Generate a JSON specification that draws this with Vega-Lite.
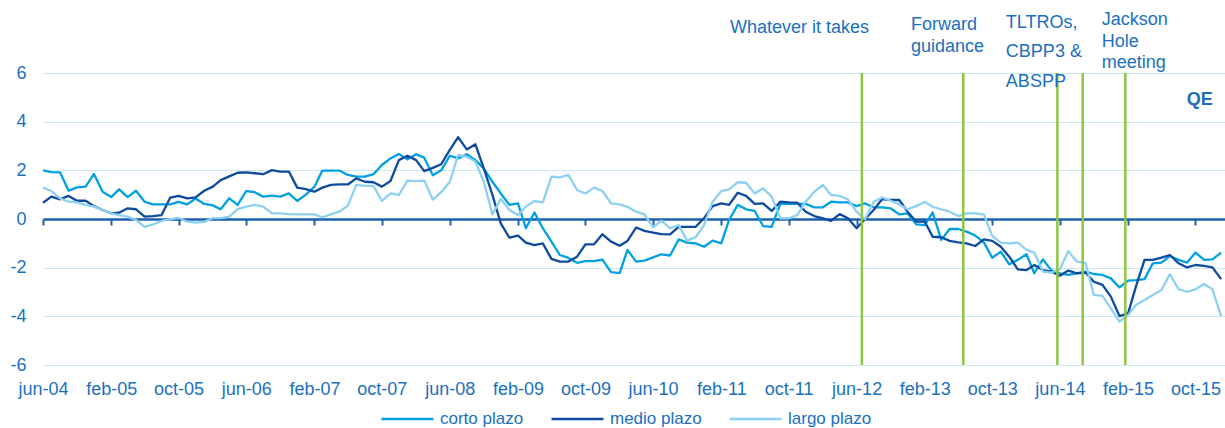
{
  "$schema": "https://vega.github.io/schema/vega-lite/v6.json",
  "width": 1182,
  "height": 292,
  "autosize": "none",
  "padding": {"left": 43, "top": 73, "right": 0, "bottom": 63},
  "background": "white",
  "config": {"view": {"stroke": null}, "font": "Liberation Sans"},
  "datasets": {
    "series": [
      {"d":"2004-06-01","corto":2.0,"medio":0.67,"largo":1.29},
      {"d":"2004-07-01","corto":1.93,"medio":0.92,"largo":1.15},
      {"d":"2004-08-01","corto":1.92,"medio":0.81,"largo":0.85},
      {"d":"2004-09-01","corto":1.16,"medio":0.95,"largo":0.71},
      {"d":"2004-10-01","corto":1.3,"medio":0.75,"largo":0.68},
      {"d":"2004-11-01","corto":1.33,"medio":0.75,"largo":0.58},
      {"d":"2004-12-01","corto":1.85,"medio":0.53,"largo":0.51},
      {"d":"2005-01-01","corto":1.12,"medio":0.37,"largo":0.37},
      {"d":"2005-02-01","corto":0.9,"medio":0.23,"largo":0.23},
      {"d":"2005-03-01","corto":1.22,"medio":0.26,"largo":0.16},
      {"d":"2005-04-01","corto":0.9,"medio":0.44,"largo":0.1},
      {"d":"2005-05-01","corto":1.16,"medio":0.4,"largo":-0.04},
      {"d":"2005-06-01","corto":0.71,"medio":0.1,"largo":-0.32},
      {"d":"2005-07-01","corto":0.6,"medio":0.12,"largo":-0.22},
      {"d":"2005-08-01","corto":0.6,"medio":0.16,"largo":-0.08},
      {"d":"2005-09-01","corto":0.6,"medio":0.88,"largo":-0.01},
      {"d":"2005-10-01","corto":0.7,"medio":0.95,"largo":0.05},
      {"d":"2005-11-01","corto":0.6,"medio":0.85,"largo":-0.11},
      {"d":"2005-12-01","corto":0.84,"medio":0.89,"largo":-0.15},
      {"d":"2006-01-01","corto":0.62,"medio":1.16,"largo":-0.12},
      {"d":"2006-02-01","corto":0.56,"medio":1.33,"largo":0.04},
      {"d":"2006-03-01","corto":0.4,"medio":1.6,"largo":0.04},
      {"d":"2006-04-01","corto":0.85,"medio":1.75,"largo":0.1},
      {"d":"2006-05-01","corto":0.58,"medio":1.9,"largo":0.41},
      {"d":"2006-06-01","corto":1.15,"medio":1.92,"largo":0.51},
      {"d":"2006-07-01","corto":1.1,"medio":1.88,"largo":0.58},
      {"d":"2006-08-01","corto":0.92,"medio":1.84,"largo":0.51},
      {"d":"2006-09-01","corto":0.96,"medio":2.01,"largo":0.23},
      {"d":"2006-10-01","corto":0.92,"medio":1.95,"largo":0.23},
      {"d":"2006-11-01","corto":1.05,"medio":1.95,"largo":0.2},
      {"d":"2006-12-01","corto":0.74,"medio":1.29,"largo":0.19},
      {"d":"2007-01-01","corto":1.0,"medio":1.23,"largo":0.19},
      {"d":"2007-02-01","corto":1.33,"medio":1.12,"largo":0.19},
      {"d":"2007-03-01","corto":1.99,"medio":1.29,"largo":0.07},
      {"d":"2007-04-01","corto":1.99,"medio":1.4,"largo":0.19},
      {"d":"2007-05-01","corto":1.99,"medio":1.42,"largo":0.3},
      {"d":"2007-06-01","corto":1.81,"medio":1.42,"largo":0.55},
      {"d":"2007-07-01","corto":1.74,"medio":1.67,"largo":1.4},
      {"d":"2007-08-01","corto":1.74,"medio":1.53,"largo":1.36},
      {"d":"2007-09-01","corto":1.84,"medio":1.51,"largo":1.36},
      {"d":"2007-10-01","corto":2.22,"medio":1.33,"largo":0.74},
      {"d":"2007-11-01","corto":2.49,"medio":1.56,"largo":1.05},
      {"d":"2007-12-01","corto":2.67,"medio":2.42,"largo":0.99},
      {"d":"2008-01-01","corto":2.45,"medio":2.6,"largo":1.58},
      {"d":"2008-02-01","corto":2.66,"medio":2.42,"largo":1.56},
      {"d":"2008-03-01","corto":2.52,"medio":1.97,"largo":1.58},
      {"d":"2008-04-01","corto":1.8,"medio":2.1,"largo":0.8},
      {"d":"2008-05-01","corto":2.0,"medio":2.25,"largo":1.1},
      {"d":"2008-06-01","corto":2.6,"medio":2.84,"largo":1.53},
      {"d":"2008-07-01","corto":2.49,"medio":3.36,"largo":2.63},
      {"d":"2008-08-01","corto":2.66,"medio":2.86,"largo":2.56},
      {"d":"2008-09-01","corto":2.42,"medio":3.07,"largo":2.36},
      {"d":"2008-10-01","corto":2.08,"medio":2.08,"largo":1.53},
      {"d":"2008-11-01","corto":1.53,"medio":0.99,"largo":0.19},
      {"d":"2008-12-01","corto":1.05,"medio":-0.18,"largo":0.82},
      {"d":"2009-01-01","corto":0.58,"medio":-0.77,"largo":0.37},
      {"d":"2009-02-01","corto":0.64,"medio":-0.68,"largo":0.16},
      {"d":"2009-03-01","corto":-0.38,"medio":-0.97,"largo":0.51},
      {"d":"2009-04-01","corto":0.27,"medio":-1.07,"largo":0.74},
      {"d":"2009-05-01","corto":-0.38,"medio":-1.0,"largo":0.68},
      {"d":"2009-06-01","corto":-0.93,"medio":-1.64,"largo":1.74},
      {"d":"2009-07-01","corto":-1.48,"medio":-1.75,"largo":1.71},
      {"d":"2009-08-01","corto":-1.6,"medio":-1.75,"largo":1.81},
      {"d":"2009-09-01","corto":-1.8,"medio":-1.55,"largo":1.19},
      {"d":"2009-10-01","corto":-1.73,"medio":-1.04,"largo":1.05},
      {"d":"2009-11-01","corto":-1.73,"medio":-1.04,"largo":1.29},
      {"d":"2009-12-01","corto":-1.67,"medio":-0.63,"largo":1.15},
      {"d":"2010-01-01","corto":-2.18,"medio":-0.93,"largo":0.64},
      {"d":"2010-02-01","corto":-2.22,"medio":-1.1,"largo":0.6},
      {"d":"2010-03-01","corto":-1.27,"medio":-0.9,"largo":0.5},
      {"d":"2010-04-01","corto":-1.75,"medio":-0.35,"largo":0.3},
      {"d":"2010-05-01","corto":-1.71,"medio":-0.49,"largo":0.19},
      {"d":"2010-06-01","corto":-1.58,"medio":-0.56,"largo":-0.34},
      {"d":"2010-07-01","corto":-1.45,"medio":-0.62,"largo":-0.07},
      {"d":"2010-08-01","corto":-1.5,"medio":-0.63,"largo":-0.38},
      {"d":"2010-09-01","corto":-0.84,"medio":-0.32,"largo":-0.25},
      {"d":"2010-10-01","corto":-0.97,"medio":-0.32,"largo":-0.89},
      {"d":"2010-11-01","corto":-1.0,"medio":-0.32,"largo":-0.75},
      {"d":"2010-12-01","corto":-1.14,"medio":0.03,"largo":-0.25},
      {"d":"2011-01-01","corto":-0.89,"medio":0.53,"largo":0.71},
      {"d":"2011-02-01","corto":-1.0,"medio":0.64,"largo":1.15},
      {"d":"2011-03-01","corto":-0.04,"medio":0.58,"largo":1.22},
      {"d":"2011-04-01","corto":0.58,"medio":1.08,"largo":1.51},
      {"d":"2011-05-01","corto":0.4,"medio":0.95,"largo":1.49},
      {"d":"2011-06-01","corto":0.33,"medio":0.62,"largo":1.05},
      {"d":"2011-07-01","corto":-0.29,"medio":0.64,"largo":1.26},
      {"d":"2011-08-01","corto":-0.32,"medio":0.33,"largo":0.92},
      {"d":"2011-09-01","corto":0.62,"medio":0.71,"largo":0.03},
      {"d":"2011-10-01","corto":0.62,"medio":0.68,"largo":0.03},
      {"d":"2011-11-01","corto":0.62,"medio":0.67,"largo":0.16},
      {"d":"2011-12-01","corto":0.62,"medio":0.3,"largo":0.71},
      {"d":"2012-01-01","corto":0.48,"medio":0.12,"largo":1.12},
      {"d":"2012-02-01","corto":0.48,"medio":0.03,"largo":1.4},
      {"d":"2012-03-01","corto":0.71,"medio":-0.08,"largo":0.99},
      {"d":"2012-04-01","corto":0.68,"medio":0.2,"largo":0.95},
      {"d":"2012-05-01","corto":0.68,"medio":0.03,"largo":0.8},
      {"d":"2012-06-01","corto":0.53,"medio":-0.38,"largo":0.3},
      {"d":"2012-07-01","corto":0.64,"medio":-0.01,"largo":-0.01},
      {"d":"2012-08-01","corto":0.48,"medio":0.37,"largo":0.7},
      {"d":"2012-09-01","corto":0.48,"medio":0.82,"largo":0.89},
      {"d":"2012-10-01","corto":0.44,"medio":0.78,"largo":0.75},
      {"d":"2012-11-01","corto":0.19,"medio":0.78,"largo":0.6},
      {"d":"2012-12-01","corto":0.23,"medio":0.3,"largo":0.4},
      {"d":"2013-01-01","corto":-0.22,"medio":-0.11,"largo":0.53},
      {"d":"2013-02-01","corto":-0.25,"medio":-0.11,"largo":0.7},
      {"d":"2013-03-01","corto":0.27,"medio":-0.73,"largo":0.5},
      {"d":"2013-04-01","corto":-0.86,"medio":-0.75,"largo":0.4},
      {"d":"2013-05-01","corto":-0.41,"medio":-0.9,"largo":0.3},
      {"d":"2013-06-01","corto":-0.41,"medio":-0.96,"largo":0.12},
      {"d":"2013-07-01","corto":-0.52,"medio":-1.0,"largo":0.23},
      {"d":"2013-08-01","corto":-0.68,"medio":-1.11,"largo":0.23},
      {"d":"2013-09-01","corto":-0.96,"medio":-0.84,"largo":0.19},
      {"d":"2013-10-01","corto":-1.59,"medio":-0.9,"largo":-0.7},
      {"d":"2013-11-01","corto":-1.34,"medio":-1.14,"largo":-0.97},
      {"d":"2013-12-01","corto":-1.86,"medio":-1.55,"largo":-1.0},
      {"d":"2014-01-01","corto":-1.68,"medio":-2.07,"largo":-0.97},
      {"d":"2014-02-01","corto":-1.45,"medio":-2.1,"largo":-1.27},
      {"d":"2014-03-01","corto":-2.23,"medio":-1.89,"largo":-1.38},
      {"d":"2014-04-01","corto":-1.66,"medio":-2.1,"largo":-2.16},
      {"d":"2014-05-01","corto":-2.1,"medio":-2.16,"largo":-2.2},
      {"d":"2014-06-01","corto":-2.23,"medio":-2.33,"largo":-2.07},
      {"d":"2014-07-01","corto":-2.3,"medio":-2.12,"largo":-1.32},
      {"d":"2014-08-01","corto":-2.23,"medio":-2.23,"largo":-1.75},
      {"d":"2014-09-01","corto":-2.16,"medio":-2.2,"largo":-1.8},
      {"d":"2014-10-01","corto":-2.26,"medio":-2.58,"largo":-3.12},
      {"d":"2014-11-01","corto":-2.3,"medio":-2.71,"largo":-3.16},
      {"d":"2014-12-01","corto":-2.44,"medio":-3.19,"largo":-3.67},
      {"d":"2015-01-01","corto":-2.81,"medio":-3.99,"largo":-4.22},
      {"d":"2015-02-01","corto":-2.53,"medio":-3.88,"largo":-3.95},
      {"d":"2015-03-01","corto":-2.51,"medio":-2.78,"largo":-3.53},
      {"d":"2015-04-01","corto":-2.47,"medio":-1.68,"largo":-3.33},
      {"d":"2015-05-01","corto":-1.82,"medio":-1.68,"largo":-3.12},
      {"d":"2015-06-01","corto":-1.79,"medio":-1.59,"largo":-2.92},
      {"d":"2015-07-01","corto":-1.52,"medio":-1.48,"largo":-2.26},
      {"d":"2015-08-01","corto":-1.68,"medio":-1.82,"largo":-2.88},
      {"d":"2015-09-01","corto":-1.79,"medio":-1.99,"largo":-2.99},
      {"d":"2015-10-01","corto":-1.38,"medio":-1.89,"largo":-2.89},
      {"d":"2015-11-01","corto":-1.68,"medio":-1.93,"largo":-2.67},
      {"d":"2015-12-01","corto":-1.66,"medio":-1.99,"largo":-2.89},
      {"d":"2016-01-01","corto":-1.38,"medio":-2.47,"largo":-3.99}
    ],
    "events": [
      {"d":"2012-06-20"},
      {"d":"2013-06-19"},
      {"d":"2014-05-23"},
      {"d":"2014-08-22"},
      {"d":"2015-01-22"}
    ],
    "notes": [
      {"d":"2011-03-04","v":7.85,"t":"Whatever it takes"},
      {"d":"2012-12-13","v":7.97,"t":"Forward"},
      {"d":"2012-12-13","v":7.07,"t":"guidance"},
      {"d":"2013-11-19","v":8.06,"t":"TLTROs,"},
      {"d":"2013-11-19","v":6.86,"t":"CBPP3 &"},
      {"d":"2013-11-19","v":5.63,"t":"ABSPP"},
      {"d":"2014-10-29","v":8.18,"t":"Jackson"},
      {"d":"2014-10-29","v":7.27,"t":"Hole"},
      {"d":"2014-10-29","v":6.41,"t":"meeting"}
    ],
    "qe": [
      {"d":"2015-08-31","v":4.89,"t":"QE"}
    ]
  },
  "layer": [
    {
      "data": {"name": "series"},
      "transform": [{"fold": ["corto", "medio", "largo"], "as": ["serie", "valor"]}],
      "mark": {"type": "line", "strokeWidth": 2.3, "strokeJoin": "round"},
      "encoding": {
        "x": {
          "field": "d", "type": "temporal",
          "scale": {"type": "utc", "domain": [{"year": 2004, "month": 6, "date": 1, "utc": true}, {"year": 2016, "month": 1, "date": 15, "utc": true}]},
          "axis": {
            "title": null,
            "values": [
              {"year": 2004, "month": 6, "date": 1, "utc": true},
              {"year": 2005, "month": 2, "date": 1, "utc": true},
              {"year": 2005, "month": 10, "date": 1, "utc": true},
              {"year": 2006, "month": 6, "date": 1, "utc": true},
              {"year": 2007, "month": 2, "date": 1, "utc": true},
              {"year": 2007, "month": 10, "date": 1, "utc": true},
              {"year": 2008, "month": 6, "date": 1, "utc": true},
              {"year": 2009, "month": 2, "date": 1, "utc": true},
              {"year": 2009, "month": 10, "date": 1, "utc": true},
              {"year": 2010, "month": 6, "date": 1, "utc": true},
              {"year": 2011, "month": 2, "date": 1, "utc": true},
              {"year": 2011, "month": 10, "date": 1, "utc": true},
              {"year": 2012, "month": 6, "date": 1, "utc": true},
              {"year": 2013, "month": 2, "date": 1, "utc": true},
              {"year": 2013, "month": 10, "date": 1, "utc": true},
              {"year": 2014, "month": 6, "date": 1, "utc": true},
              {"year": 2015, "month": 2, "date": 1, "utc": true},
              {"year": 2015, "month": 10, "date": 1, "utc": true}
            ],
            "labelExpr": "lower(utcFormat(datum.value, '%b-%y'))",
            "domain": false,
            "grid": false,
            "ticks": true,
            "tickSize": 6,
            "tickWidth": 2,
            "tickColor": "#1d5fae",
            "offset": -146,
            "labelPadding": 155,
            "labelDx": 3,
            "labelFontSize": 18,
            "labelColor": "#1a70c0",
            "labelFlush": false,
            "labelOverlap": false
          }
        },
        "y": {
          "field": "valor", "type": "quantitative",
          "scale": {"domain": [-6, 6], "nice": false, "zero": false},
          "axis": {
            "title": null,
            "values": [-6, -4, -2, 0, 2, 4, 6],
            "labelExpr": "datum.value + ''",
            "domain": false,
            "ticks": false,
            "grid": true,
            "gridColor": {"condition": {"test": "datum.value === 0", "value": "#1d5fae"}, "value": "#c8e6f5"},
            "gridWidth": {"condition": {"test": "datum.value === 0", "value": 2.5}, "value": 1},
            "labelPadding": 17,
            "labelFontSize": 18,
            "labelColor": "#1a70c0"
          }
        },
        "color": {
          "field": "serie", "type": "nominal",
          "scale": {"domain": ["corto", "medio", "largo"], "range": ["#00a0e3", "#0e4a9e", "#8ed0f1"]},
          "legend": {
            "title": null,
            "orient": "none",
            "legendX": 337,
            "legendY": 336,
            "direction": "horizontal",
            "symbolType": "stroke",
            "symbolSize": 2704,
            "symbolStrokeWidth": 2.5,
            "clipHeight": 20,
            "labelFontSize": 17,
            "labelColor": "#1a70c0",
            "columnPadding": 26,
            "labelOffset": 5,
            "padding": 0,
            "labelExpr": "datum.label + ' plazo'"
          }
        }
      }
    },
    {
      "data": {"name": "events"},
      "mark": {"type": "rule", "color": "#8dc63f", "strokeWidth": 2.5},
      "encoding": {"x": {"field": "d", "type": "temporal"}}
    },
    {
      "data": {"name": "notes"},
      "mark": {"type": "text", "align": "left", "baseline": "middle", "fontSize": 18, "color": "#1a70c0"},
      "encoding": {
        "x": {"field": "d", "type": "temporal"},
        "y": {"field": "v", "type": "quantitative"},
        "text": {"field": "t"}
      }
    },
    {
      "data": {"name": "qe"},
      "mark": {"type": "text", "align": "left", "baseline": "middle", "fontSize": 18, "fontWeight": "bold", "color": "#1a6cb8"},
      "encoding": {
        "x": {"field": "d", "type": "temporal"},
        "y": {"field": "v", "type": "quantitative"},
        "text": {"field": "t"}
      }
    }
  ]
}
